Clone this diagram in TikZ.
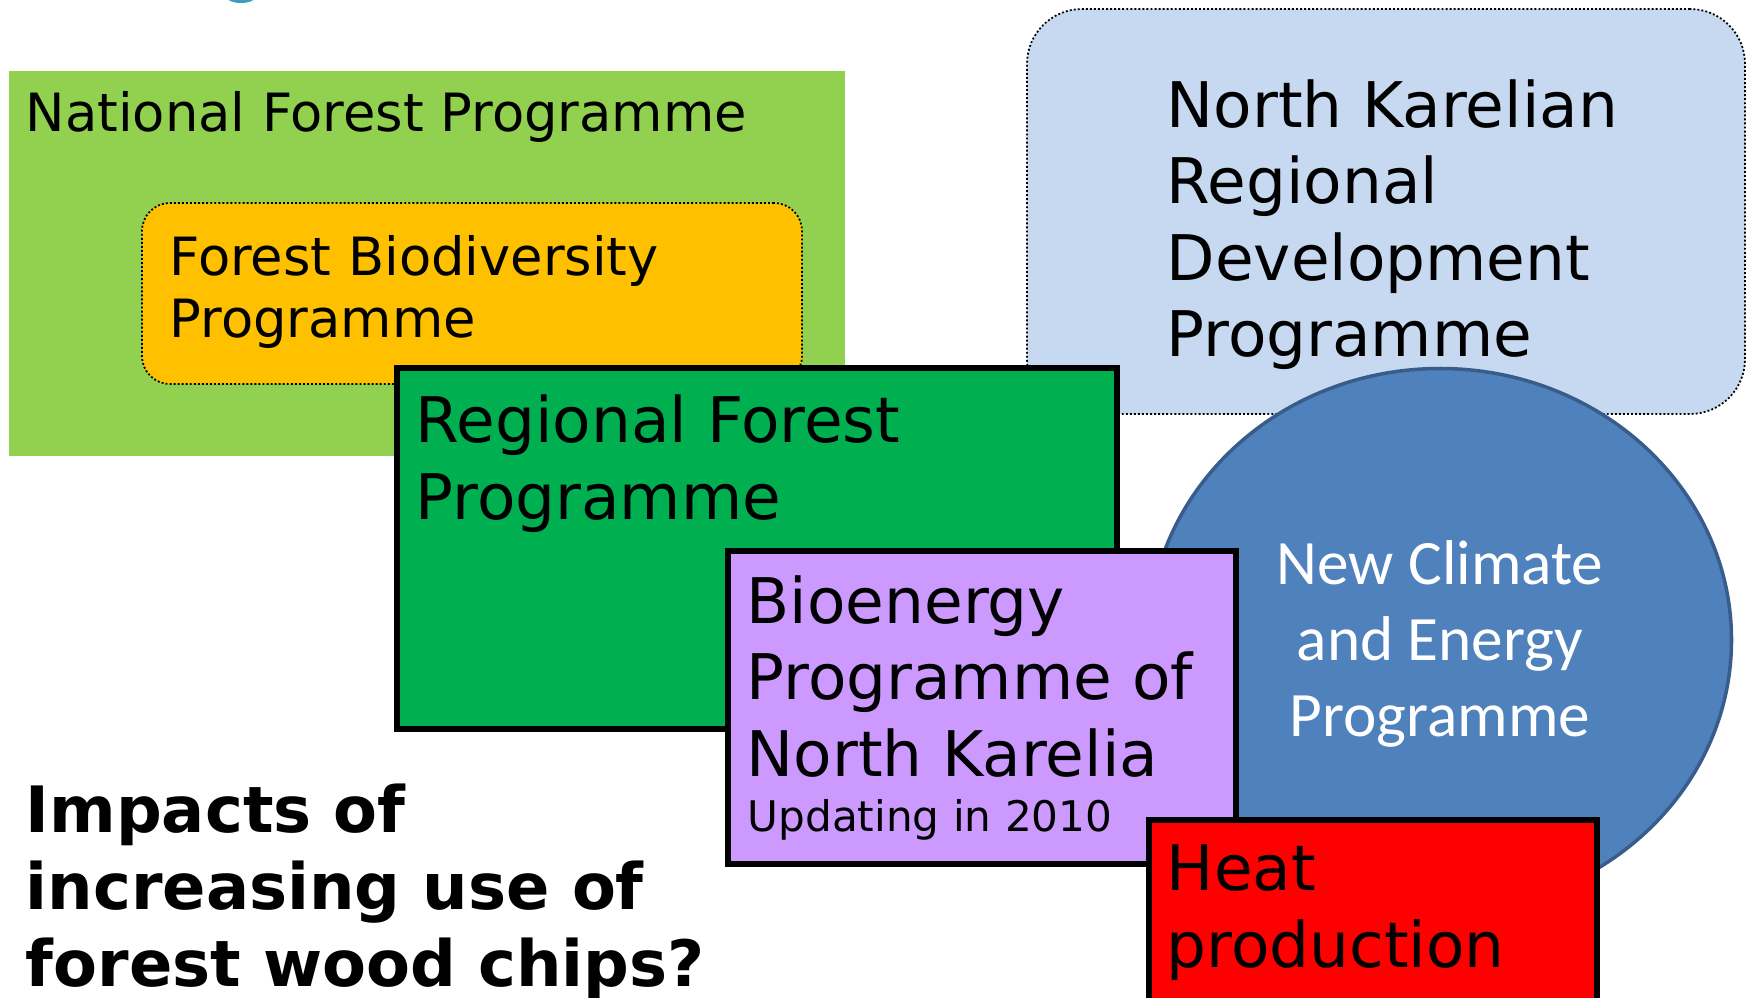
\documentclass[tikz,border=0pt]{standalone}
\usepackage{fontspec}
\setmainfont{DejaVu Sans}
\newfontfamily\calibfont{Carlito}
\usetikzlibrary{shapes.geometric}
\definecolor{natgreen}{HTML}{92D050}
\definecolor{bioorange}{HTML}{FFC000}
\definecolor{reggreen}{HTML}{00B050}
\definecolor{devblue}{HTML}{C6D9F1}
\definecolor{climblue}{HTML}{4F81BD}
\definecolor{climedge}{HTML}{385D8A}
\definecolor{bioviolet}{HTML}{CC99FF}
\definecolor{titlecyan}{HTML}{3C9DBF}
\begin{document}
\begin{tikzpicture}[x=0.1mm, y=-0.1mm,
  prog box/.style={rectangle, draw=black, line width=1.7pt, inner sep=0pt},
  dot box/.style={rectangle, rounded corners=#1, draw=black, line width=0.5pt, dash pattern=on 0.55pt off 0.6pt, inner sep=0pt},
  prog text/.style={anchor=base west, align=left, inner sep=0pt, font=\fontsize{17.9}{21.7}\selectfont}]
\useasboundingbox (0,0) rectangle (1750,998);
\clip (0,0) rectangle (1750,998);
\fill[titlecyan] (241,-3) ellipse [x radius=1.45mm, y radius=0.6mm];
\begin{scope}
\node[rectangle, fill=natgreen, inner sep=0pt, minimum width=83.6mm, minimum height=38.5mm] (nfp) at (427,263.5) {};
\node[dot box=2.8mm, fill=bioorange, minimum width=66mm, minimum height=18.1mm] (fbp) at (472,293.5) {};
\node[dot box=5.5mm, fill=devblue, minimum width=71.8mm, minimum height=40.5mm] (nkrdp) at (1386,211.5) {};
\node[ellipse, fill=climblue, draw=climedge, line width=1pt, inner sep=0pt, minimum width=58.3mm, minimum height=54.3mm] (ncep) at (1440,640) {};
\node[prog box, fill=reggreen, minimum width=72mm, minimum height=36.1mm] (rfp) at (757,548.5) {};
\node[prog box, fill=bioviolet, minimum width=50.8mm, minimum height=31.3mm] (bpnk) at (982,707.5) {};
\node[prog box, fill=red, minimum width=44.8mm, minimum height=19mm] (heat) at (1373,915) {};
\end{scope}
% multi-line texts sit on the baseline of their last line
\begin{scope}[every node/.style={prog text}]
\node[font=\fontsize{15}{17.9}\selectfont] (nfp text) at (25,132) {National Forest Programme};
\node[font=\fontsize{15}{17.9}\selectfont] (fbp text) at (169,338) {Forest Biodiversity\\Programme};
\node[font=\fontsize{17.9}{21.8}\selectfont] (nkrdp text) at (1166,357) {North Karelian\\Regional\\Development\\Programme};
\node (rfp text) at (415,519) {Regional Forest\\Programme};
\node (bpnk text) at (746,776) {Bioenergy\\Programme of\\North Karelia};
\node[font=\fontsize{12}{14}\selectfont] (upd text) at (747,831) {Updating in 2010};
\node (heat text) at (1166,967) {Heat\\production};
\node[font=\fontsize{18.2}{21.9}\selectfont\bfseries] (impact text) at (25,986) {Impacts of\\increasing use of\\forest wood chips?};
\end{scope}
\node[anchor=base, align=center, inner sep=0pt, text=white, font=\calibfont\fontsize{18}{21.6}\selectfont] (ncep text) at (1440,736) {New Climate\\and Energy\\Programme};
\end{tikzpicture}
\end{document}
